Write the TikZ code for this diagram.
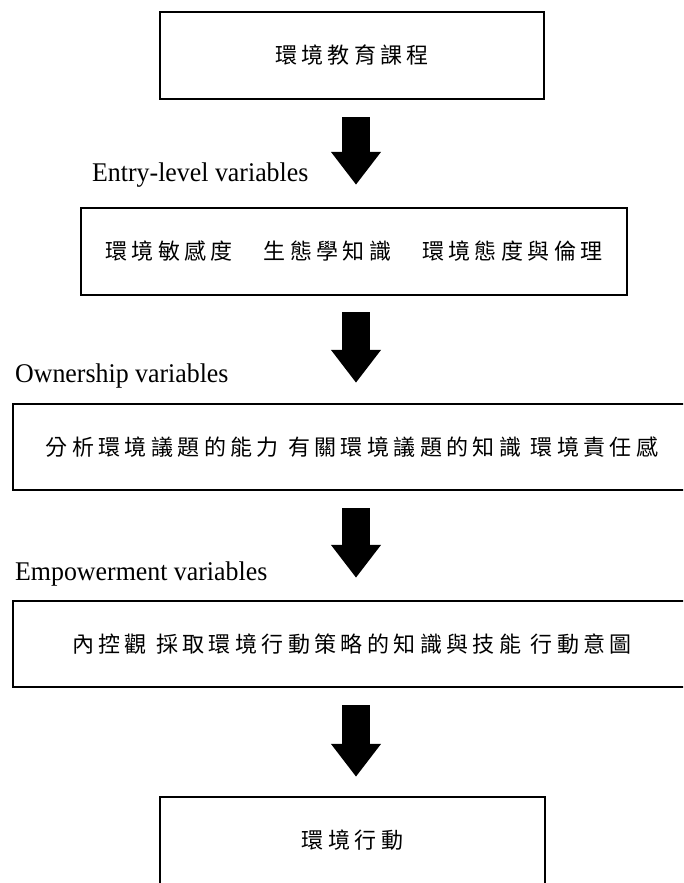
\documentclass[tikz,border=0pt]{standalone}
\usepackage{fontspec}
\setmainfont{Liberation Serif}
\newfontfamily\cjk[LetterSpace=20]{Noto Sans CJK TC}
\usetikzlibrary{arrows.meta,calc}
\begin{document}
\begin{tikzpicture}[x=1pt,y=-1pt,
  stagebox/.style={draw,line width=2.5pt,inner sep=0pt,font=\cjk\fontsize{22}{26}\selectfont},
  bigarrow/.style={line width=28pt,-{Triangle[width=48pt,length=33pt]}},
  varlabel/.style={anchor=base west,inner sep=0pt,xscale=0.958,font=\fontsize{27}{31}\selectfont}]
\useasboundingbox (0,0) rectangle (683,883);
\clip (0,0) rectangle (683,883);

% stages of the model
\node[stagebox,minimum width=384pt,minimum height=87pt] (b1) at (352,55.5) {環境教育課程};
\node[stagebox,minimum width=546pt,minimum height=87pt] (b2) at (354,251.5) {環境敏感度　生態學知識　環境態度與倫理};
\node[stagebox,minimum width=678pt,minimum height=86pt] (b3) at (352,447) {分析環境議題的能力 有關環境議題的知識 環境責任感};
\node[stagebox,minimum width=678pt,minimum height=86pt] (b4) at (352,644) {內控觀 採取環境行動策略的知識與技能 行動意圖};
\node[stagebox,minimum width=385pt,minimum height=87pt] (b5) at (352.5,840.5) {環境行動};

% variable group labels
\node[varlabel] (l1) at (92,181) {Entry-level variables};
\node[varlabel] (l2) at (15,382) {Ownership variables};
\node[varlabel] (l3) at (15,580) {Empowerment variables};

% block arrows between stages
\coordinate (a1s) at ($(b1.south)+(4,17)$);
\coordinate (a1e) at ($(b2.north)+(2,-22)$);
\coordinate (a2s) at ($(b2.south)+(2,16)$);
\coordinate (a2e) at ($(b3.north)+(4,-20)$);
\coordinate (a3s) at ($(b3.south)+(4,17)$);
\coordinate (a3e) at ($(b4.north)+(4,-22)$);
\coordinate (a4s) at ($(b4.south)+(4,17)$);
\coordinate (a4e) at ($(b5.north)+(3.5,-19)$);
\draw[bigarrow] (a1s) -- (a1e);
\draw[bigarrow] (a2s) -- (a2e);
\draw[bigarrow] (a3s) -- (a3e);
\draw[bigarrow] (a4s) -- (a4e);
\end{tikzpicture}
\end{document}
